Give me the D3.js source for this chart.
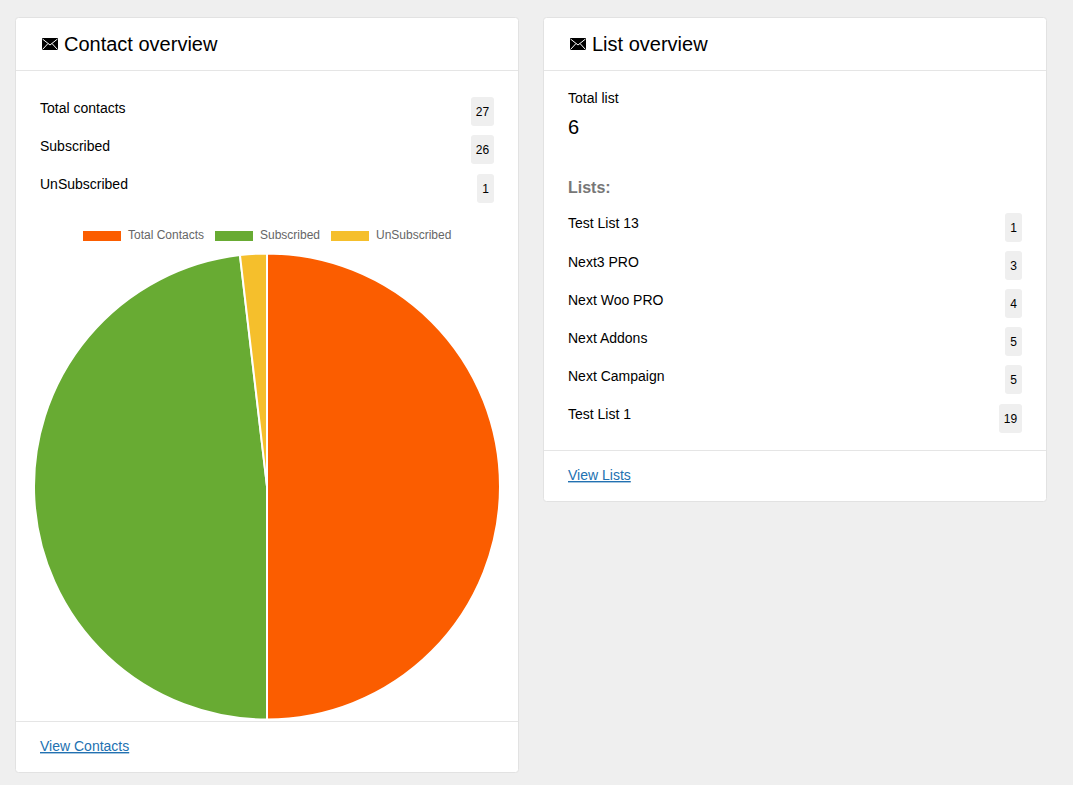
<!DOCTYPE html>
<html lang="en">
<head>
<meta charset="UTF-8">
<title>Overview</title>
<script src="https://d3js.org/d3.v7.min.js"></script>
<style>
html, body { margin: 0; padding: 0; background: #efefef; overflow: hidden; }
svg { display: block; font-family: "Liberation Sans", Arial, sans-serif; }
.card { fill: #fff; stroke: #e2e2e2; }
.rule { stroke: #e5e5e5; }
.title { font-size: 20px; fill: #000; }
.row { font-size: 14px; fill: #000; }
.badge { fill: #efefef; }
.count { font-size: 12px; fill: #000; text-anchor: middle; }
.legend { font-size: 12px; fill: #666; }
.link { font-size: 14px; fill: #2271b1; text-decoration: underline; }
</style>
</head>
<body>
<svg id="page" width="1073" height="785"></svg>
<script>
// contact stats
const contactLabels = ["Total contacts", "Subscribed", "UnSubscribed"];
const contactCounts = [27, 26, 1];

// chart
const pieLabels = ["Total Contacts", "Subscribed", "UnSubscribed"];
const pieValues = [27, 26, 1];
const pieColors = ["#fb5d00", "#68ab33", "#f5bf2c"];

// list stats
const listNames = ["Test List 13", "Next3 PRO", "Next Woo PRO", "Next Addons", "Next Campaign", "Test List 1"];
const listCounts = [1, 3, 4, 5, 5, 19];

const svg = d3.select("#page");

function drawCard(x, y, w, h, title, footerY, footerText) {
	svg.append("rect").attr("class", "card")
		.attr("x", x + 0.5).attr("y", y + 0.5)
		.attr("width", w - 1).attr("height", h - 1).attr("rx", 3);
	svg.append("line").attr("class", "rule")
		.attr("x1", x + 1).attr("x2", x + w - 1)
		.attr("y1", 70.5).attr("y2", 70.5);
	svg.append("line").attr("class", "rule")
		.attr("x1", x + 1).attr("x2", x + w - 1)
		.attr("y1", footerY + 0.5).attr("y2", footerY + 0.5);

	// envelope icon
	const icon = svg.append("g").attr("transform", `translate(${x + 27},38)`);
	icon.append("rect").attr("width", 16).attr("height", 12).attr("fill", "#000");
	icon.append("path")
		.attr("d", "M0.5 1 L8 7 L15.5 1 M0.5 11.5 L6 5.5 M15.5 11.5 L10 5.5")
		.attr("fill", "none").attr("stroke", "#fff").attr("stroke-width", 1);

	svg.append("text").attr("class", "title")
		.attr("x", x + 49).attr("y", 51).text(title);
	svg.append("text").attr("class", "link")
		.attr("x", x + 25).attr("y", footerY + 30).text(footerText);
}

function drawRows(labels, counts, textYs, badgeYs, left, right) {
	svg.selectAll(null).data(labels).enter().append("text")
		.attr("class", "row")
		.attr("x", left)
		.attr("y", (d, i) => textYs[i])
		.text(d => d);
	counts.forEach((c, i) => {
		const w = String(c).length > 1 ? 23 : 17;
		svg.append("rect").attr("class", "badge")
			.attr("x", right - w).attr("y", badgeYs[i])
			.attr("width", w).attr("height", 29).attr("rx", 3);
		svg.append("text").attr("class", "count")
			.attr("x", right - w / 2).attr("y", badgeYs[i] + 18.5)
			.text(c);
	});
}

drawCard(15, 17, 504, 756, "Contact overview", 721, "View Contacts");
drawCard(543, 17, 504, 485, "List overview", 450, "View Lists");

drawRows(contactLabels, contactCounts, [113, 151, 189], [97, 135, 174], 40, 494);

// right card head
svg.append("text").attr("class", "row").attr("x", 568).attr("y", 103).text("Total list");
svg.append("text").attr("x", 568).attr("y", 134).attr("font-size", 20).attr("fill", "#000").text(d3.sum([6]));
svg.append("text").attr("x", 568).attr("y", 193).attr("font-size", 16).attr("font-weight", "bold").attr("fill", "#777").text("Lists:");
drawRows(listNames, listCounts, [228, 267, 305, 343, 381, 419], [213, 251, 289, 327, 365, 404], 568, 1022);

// legend
const legendX = [83, 215, 331];
const legend = svg.selectAll(".key").data(pieLabels).enter().append("g")
	.attr("class", "key")
	.attr("transform", (d, i) => `translate(${legendX[i]},230)`);
legend.append("rect")
	.attr("y", 1).attr("width", 38).attr("height", 10)
	.attr("fill", (d, i) => pieColors[i]);
legend.append("text").attr("class", "legend")
	.attr("x", 45).attr("y", 9).text(d => d);

// pie
const radius = 233;
const pie = d3.pie().sort(null);
const arc = d3.arc().innerRadius(0).outerRadius(radius);
svg.append("g").attr("transform", "translate(267,486.5)")
	.selectAll("path").data(pie(pieValues)).enter().append("path")
	.attr("d", arc)
	.attr("fill", (d, i) => pieColors[i])
	.attr("stroke", "#fff")
	.attr("stroke-width", 2);
</script>
</body>
</html>
